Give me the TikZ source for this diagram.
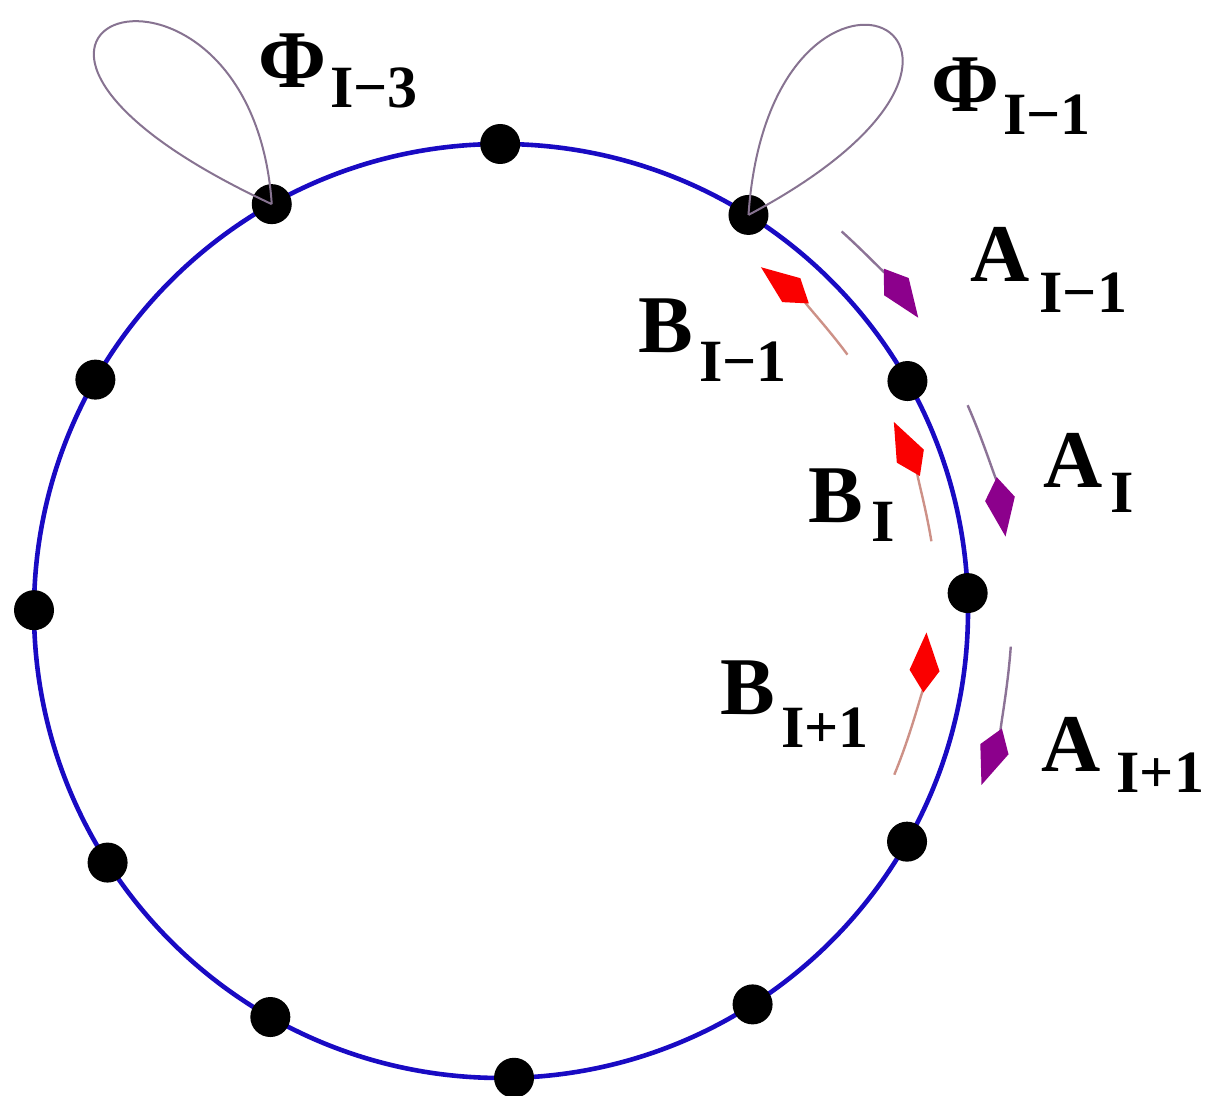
\documentclass[tikz,border=0pt]{standalone}
\usepackage{fontspec}
\setmainfont{Liberation Serif}
\usetikzlibrary{arrows.meta}
\definecolor{ringblue}{RGB}{25,10,195}
\definecolor{loopgray}{RGB}{135,115,145}
\definecolor{astem}{RGB}{140,115,150}
\definecolor{ahead}{RGB}{140,0,140}
\definecolor{bstem}{RGB}{205,145,135}
\definecolor{bhead}{RGB}{250,0,0}
\newcommand{\lbl}[4]{\fontsize{41}{41}\selectfont\bfseries #1\kern#4\raisebox{-#3}{\fontsize{30}{30}\selectfont\bfseries #2}}
\tikzset{
  ring/.style={draw=ringblue, line width=2.3pt},
  dot/.style={circle, fill=black, inner sep=0pt, minimum size=20pt},
  loopline/.style={draw=loopgray, line width=1pt},
  aarrow/.style={draw=astem, line width=1.2pt, -{Kite[length=30pt,width=15pt,inset=11pt,color=ahead,fill=ahead]}},
  barrow/.style={draw=bstem, line width=1.2pt, -{Kite[length=30pt,width=15pt,inset=11pt,color=bhead,fill=bhead]}},
  lab/.style={anchor=base west, inner sep=0pt}
}
\begin{document}
\begin{tikzpicture}[x=0.5pt,y=0.5pt]
\useasboundingbox (0,0) rectangle (1214,1096);
\begin{scope}[shift={(501,485)}]
  \draw[ring] (0,0) circle[radius=467];
  \node[dot] (d090) at (90.1:467) {};
  \node[dot] (d120) at (119.4:467) {};
  \node[dot] (d060) at (58.0:467) {};
  \node[dot] (d150) at (150.3:467) {};
  \node[dot] (d030) at (29.5:467) {};
  \node[dot] (d000) at (2.2:467) {};
  \node[dot] (d180) at (179.9:467) {};
  \node[dot] (d210) at (212.6:467) {};
  \node[dot] (d330) at (330.4:467) {};
  \node[dot] (d240) at (240.4:467) {};
  \node[dot] (d300) at (302.6:467) {};
  \node[dot] (d270) at (271.6:467) {};
  % A arrows (outside, clockwise)
  \draw[aarrow] (48.1:510) arc[start angle=48.1, end angle=35.1, radius=510];
  \draw[aarrow] (23.8:510) arc[start angle=23.8, end angle=8.4, radius=510];
  \draw[aarrow] (-4:511) arc[start angle=-4, end angle=-19.9, radius=511];
  % B arrows (inside, counter-clockwise)
  \draw[barrow] (36.5:431) arc[start angle=36.5, end angle=52.9, radius=431];
  \draw[barrow] (9.2:436) arc[start angle=9.2, end angle=25.7, radius=436];
  \draw[barrow] (-22.6:426) arc[start angle=-22.6, end angle=-2.9, radius=426];
\end{scope}
% loops
\draw[loopline] (d120.center) .. controls +(94:300) and +(155:430) .. (d120.center);
\draw[loopline] (d060.center) .. controls +(86:320) and +(28:380) .. (d060.center);
% labels
\node[lab] (phi3) at (258,1008) {\lbl{Φ}{I−3}{10pt}{2pt}};
\node[lab] (phi1) at (931,984) {\lbl{Φ}{I−1}{11.5pt}{2pt}};
\node[lab] (am1) at (970,814) {\lbl{A}{I−1}{15.5pt}{5pt}};
\node[lab] (bm1) at (638,743) {\lbl{B}{I−1}{14.5pt}{3pt}};
\node[lab] (a0) at (1043,608) {\lbl{A}{I}{12.5pt}{4pt}};
\node[lab] (b0) at (808,573) {\lbl{B}{I}{9.5pt}{4pt}};
\node[lab] (bp1) at (720,381) {\lbl{B}{I+1}{16.5pt}{3pt}};
\node[lab] (ap1) at (1041,324) {\lbl{A}{I+1}{10.5pt}{8pt}};
\end{tikzpicture}
\end{document}
